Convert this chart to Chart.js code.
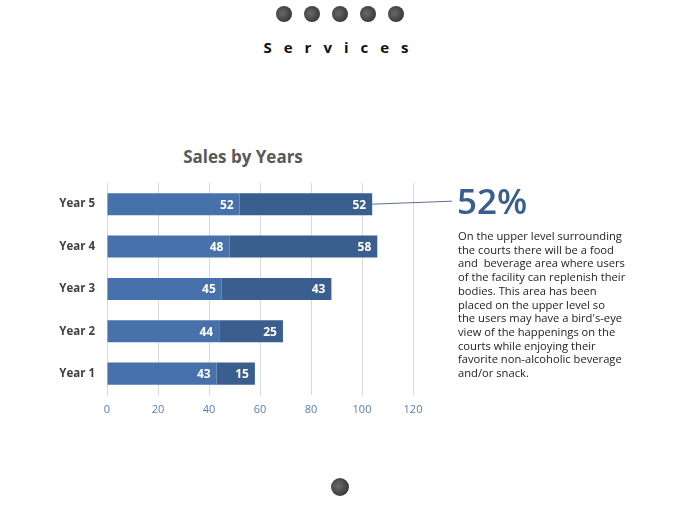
<!DOCTYPE html>
<html lang="en">
<head>
    <meta charset="UTF-8">
    <title>Services - Sales by Years</title>
    <style>
        * { box-sizing: border-box; margin: 0; padding: 0; }
        body {
            width: 680px;
            height: 510px;
            background: #ffffff;
            font-family: "Open Sans", Arial, sans-serif;
            position: relative;
            overflow: hidden;
        }
        .dot {
            position: absolute;
            width: 16px;
            height: 16px;
            border-radius: 50%;
            background: radial-gradient(circle at 40% 45%, #6a6a6a, #3a3a3a 70%);
        }
        .heading {
            position: absolute;
            top: 37px;
            left: 0;
            width: 680px;
            text-align: center;
            font-size: 15px;
            font-weight: 700;
            letter-spacing: 12px;
            padding-left: 4px;
            color: #111;
        }
        .chart-title {
            position: absolute;
            left: 143px;
            width: 200px;
            top: 145px;
            text-align: center;
            font-size: 17px;
            font-weight: 700;
            color: #595959;
            line-height: 24px;
        }
        .chart-box {
            position: absolute;
            left: 40px;
            top: 140px;
            width: 420px;
            height: 284px;
        }
        .big {
            position: absolute;
            left: 457px;
            top: 180px;
            font-size: 35px;
            font-weight: 600;
            color: #3a5e8d;
            line-height: 42px;
        }
        .para {
            position: absolute;
            left: 458px;
            top: 229px;
            font-size: 11.2px;
            line-height: 13.7px;
            color: #222;
            white-space: nowrap;
        }
    </style>
</head>
<body>
<div class="dot" style="left:276px;top:6px"></div>
<div class="dot" style="left:304px;top:6px"></div>
<div class="dot" style="left:332px;top:6px"></div>
<div class="dot" style="left:360px;top:6px"></div>
<div class="dot" style="left:388px;top:6px"></div>
<div class="heading">Services</div>

<div class="chart-title">Sales by Years</div>
<div class="chart-box"><canvas id="salesChart"></canvas></div>

<div class="big">52%</div>
<div class="para">
On the upper level surrounding<br>
the courts there will be a food<br>
and &nbsp;beverage area where users<br>
of the facility can replenish their<br>
bodies. This area has been<br>
placed on the upper level so<br>
the users may have a bird's-eye<br>
view of the happenings on the<br>
courts while enjoying their<br>
favorite non-alcoholic beverage<br>
and/or snack.
</div>

<div class="dot" style="left:331px;top:478px;width:18px;height:18px"></div>

<script src="https://cdn.jsdelivr.net/npm/chart.js"></script>
<script>
    // values
    const years = ['Year 1', 'Year 2', 'Year 3', 'Year 4', 'Year 5'];
    const seriesA = [43, 44, 45, 48, 52];
    const seriesB = [15, 25, 43, 58, 52];
    const xTicks = [0, 20, 40, 60, 80, 100, 120];

    // white value labels at the inner end of every segment + connector line
    const valueLabels = {
        id: 'valueLabels',
        afterDatasetsDraw(chart) {
            const ctx = chart.ctx;
            ctx.save();
            ctx.font = 'bold 12px "Open Sans", Arial, sans-serif';
            ctx.fillStyle = '#ffffff';
            ctx.textAlign = 'right';
            ctx.textBaseline = 'middle';
            chart.data.datasets.forEach((ds, i) => {
                chart.getDatasetMeta(i).data.forEach((bar, j) => {
                    ctx.fillText(ds.data[j], bar.x - 6, bar.y + 1);
                });
            });
            // line from top bar to the big percentage
            const top = chart.getDatasetMeta(1).data[years.length - 1];
            ctx.strokeStyle = '#5a6f8c';
            ctx.lineWidth = 1;
            ctx.beginPath();
            ctx.moveTo(top.x, top.y);
            ctx.lineTo(412, top.y - 3);
            ctx.stroke();
            ctx.restore();
        }
    };

    const ctx = document.getElementById('salesChart').getContext('2d');
    new Chart(ctx, {
        type: 'bar',
        data: {
            labels: years,
            datasets: [
                { label: 'A', data: seriesA, backgroundColor: '#4671aa' },
                { label: 'B', data: seriesB, backgroundColor: '#3a5e8d' }
            ]
        },
        options: {
            indexAxis: 'y',
            responsive: true,
            maintainAspectRatio: false,
            animation: false,
            layout: { padding: { top: 43, right: 47, left: 0, bottom: 0 } },
            datasets: { bar: { categoryPercentage: 1, barPercentage: 0.52 } },
            plugins: {
                legend: { display: false },
                tooltip: { enabled: false }
            },
            scales: {
                x: {
                    stacked: true,
                    min: 0,
                    max: 120,
                    afterBuildTicks(scale) {
                        scale.ticks = xTicks.map(v => ({ value: v }));
                    },
                    grid: { color: '#d9d9d9', drawTicks: false },
                    border: { display: false },
                    ticks: {
                        color: '#5b7db3',
                        padding: 8,
                        font: { size: 11, family: '"Open Sans", Arial, sans-serif' }
                    }
                },
                y: {
                    stacked: true,
                    reverse: true,
                    afterFit(scale) { scale.width = 67; },
                    grid: { display: false },
                    border: { display: false },
                    ticks: {
                        color: '#404040',
                        padding: 4,
                        font: { size: 11.5, weight: 'bold', family: '"Open Sans", Arial, sans-serif' }
                    }
                }
            }
        },
        plugins: [valueLabels]
    });
</script>
</body>
</html>
